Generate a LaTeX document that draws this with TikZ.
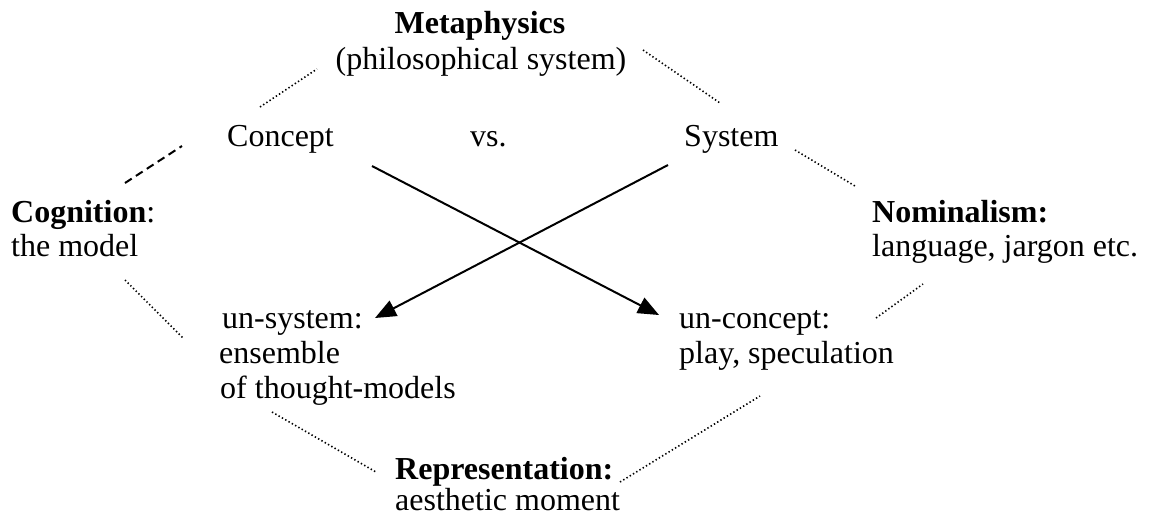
\documentclass[tikz,border=0pt]{standalone}
\usepackage{fontspec}
\setmainfont{Liberation Serif}
\usetikzlibrary{arrows.meta}
\begin{document}
\begin{tikzpicture}[x=1pt,y=-1pt,
  txt/.style={font=\fontsize{32}{34}\selectfont, inner sep=0pt, anchor=base west},
  dotline/.style={line width=1.6pt, dash pattern=on 1.4pt off 2.4pt},
  dashline/.style={line width=2pt, dash pattern=on 8pt off 5pt},
  arr/.style={line width=2pt, -{Triangle[length=21pt,width=17pt]}}]
\useasboundingbox (0,0) rectangle (1151,515);
% texts
\node[txt,anchor=base] (meta) at (480,33) {\bfseries Metaphysics};
\node[txt,anchor=base] (phil) at (481,69) {(philosophical system)};
\node[txt] (concept) at (227,146) {Concept};
\node[txt] (vs) at (470,146) {vs.};
\node[txt] (system) at (684,146) {System};
\node[txt] (cog) at (11,222) {\textbf{Cognition}:};
\node[txt] (model) at (11,256) {the model};
\node[txt] (nom) at (872,222) {\textbf{Nominalism:}};
\node[txt] (lang) at (872,256) {language, jargon etc.};
\node[txt] (unsys) at (222,328) {un-system:};
\node[txt] (ens) at (219,363) {ensemble};
\node[txt] (thought) at (220,398) {of thought-models};
\node[txt] (uncon) at (679,328) {un-concept:};
\node[txt] (play) at (679,363) {play, speculation};
\node[txt] (repr) at (395,479) {\textbf{Representation:}};
\node[txt] (aest) at (395,510) {aesthetic moment};
% connector end points
\coordinate (d1a) at (260,107); \coordinate (d1b) at (317,69);
\coordinate (d2a) at (643,50);  \coordinate (d2b) at (720,103);
\coordinate (d3a) at (125,183); \coordinate (d3b) at (182,146);
\coordinate (d4a) at (795,150); \coordinate (d4b) at (855,186);
\coordinate (d5a) at (125,280); \coordinate (d5b) at (183,338);
\coordinate (d6a) at (876,318); \coordinate (d6b) at (923,284);
\coordinate (d7a) at (272,412); \coordinate (d7b) at (376,472);
\coordinate (d8a) at (620,482); \coordinate (d8b) at (760,396);
\coordinate (a1s) at (372,166); \coordinate (a1e) at (659,315);
\coordinate (a2s) at (668,165); \coordinate (a2e) at (375,318);
% connectors
\draw[dotline] (d1a) -- (d1b);
\draw[dotline] (d2a) -- (d2b);
\draw[dashline] (d3a) -- (d3b);
\draw[dotline] (d4a) -- (d4b);
\draw[dotline] (d5a) -- (d5b);
\draw[dotline] (d6a) -- (d6b);
\draw[dotline] (d7a) -- (d7b);
\draw[dotline] (d8a) -- (d8b);
\draw[arr] (a1s) -- (a1e);
\draw[arr] (a2s) -- (a2e);
\end{tikzpicture}
\end{document}
